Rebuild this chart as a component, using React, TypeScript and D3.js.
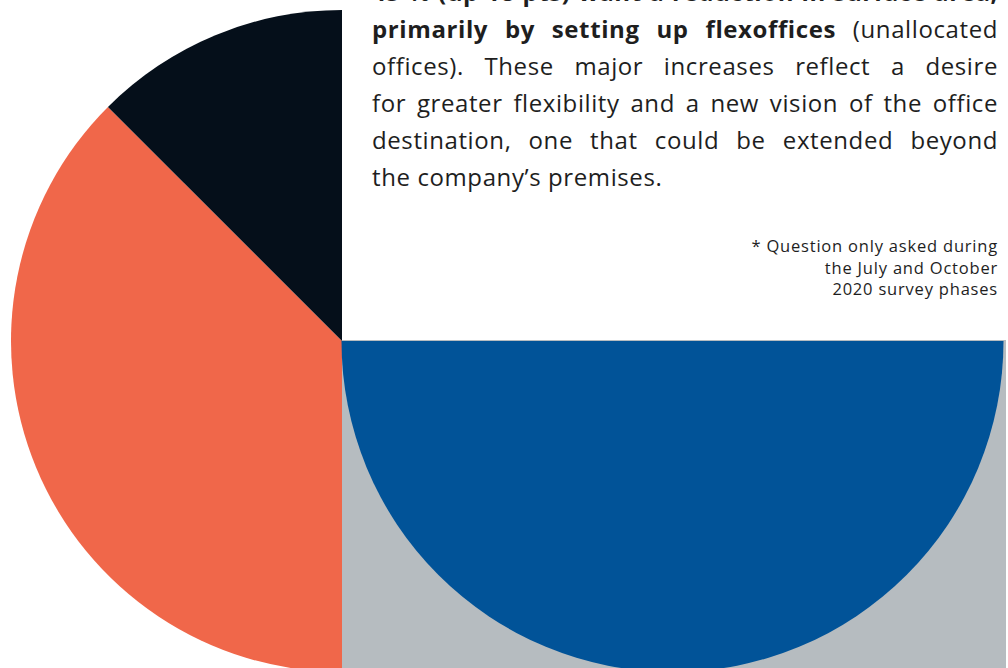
import React, { useEffect, useRef } from "react";
import * as d3 from "d3";

const W = 1008;
const H = 668;

// Pie (left half visible) — share of the half-disc
const pieLabels = ["Reduction", "No change"];
const pieValues = [75, 25];
const pieColors = ["#f0674a", "#050f1a"];

// Blue half-disc over grey panel
const halfValues = [100];
const halfColors = ["#015398"];
const panelColor = "#b6bcc0";

type Seg = { text: string; bold: boolean };
const paraLines: Seg[][] = [
  [{ text: "45 % (up 18 pts) want a reduction in surface area,", bold: true }],
  [
    { text: "primarily by setting up flexoffices", bold: true },
    { text: "(unallocated", bold: false },
  ],
  [{ text: "offices). These major increases reflect a desire", bold: false }],
  [{ text: "for greater flexibility and a new vision of the office", bold: false }],
  [{ text: "destination, one that could be extended beyond", bold: false }],
  [{ text: "the company’s premises.", bold: false }],
];
const justified = [true, true, true, true, true, false];

const footLines = [
  "* Question only asked during",
  "the July and October",
  "2020 survey phases",
];

const FONT = "'Open Sans', 'Noto Sans', sans-serif";

export default function App() {
  const ref = useRef<SVGSVGElement | null>(null);

  useEffect(() => {
    const svg = d3.select(ref.current);
    svg.selectAll("*").remove();

    // Pie
    const cx = 342, cy = 341, r = 331;
    const pie = d3
      .pie<number>()
      .sort(null)
      .startAngle(-Math.PI)
      .endAngle(0);
    const arc = d3.arc<d3.PieArcDatum<number>>().innerRadius(0).outerRadius(r);
    svg
      .append("g")
      .attr("transform", `translate(${cx},${cy})`)
      .selectAll("path")
      .data(pie(pieValues))
      .join("path")
      .attr("d", arc)
      .attr("fill", (_, i) => pieColors[i])
      .attr("data-label", (_, i) => pieLabels[i]);

    // Grey panel
    svg
      .append("rect")
      .attr("x", cx)
      .attr("y", 340)
      .attr("width", 1006 - cx)
      .attr("height", H - 340)
      .attr("fill", panelColor);

    // Blue half disc
    const bx = 672.5, br = 331;
    const half = d3.pie<number>().sort(null).startAngle(Math.PI / 2).endAngle((3 * Math.PI) / 2);
    const arc2 = d3.arc<d3.PieArcDatum<number>>().innerRadius(0).outerRadius(br);
    svg
      .append("g")
      .attr("transform", `translate(${bx},${cy})`)
      .selectAll("path")
      .data(half(halfValues))
      .join("path")
      .attr("d", arc2)
      .attr("fill", (_, i) => halfColors[i]);

    // Paragraph, justified
    const fs = 24;
    const x0 = 372, x1 = 998;
    const tg = svg
      .append("g")
      .attr("font-family", FONT)
      .attr("font-size", fs)
      .attr("letter-spacing", 0.6)
      .attr("fill", "#1e1e1e");
    const measure = (t: string, bold: boolean) => {
      const n = tg.append("text").attr("font-weight", bold ? 700 : 400).text(t);
      const w = (n.node() as SVGTextElement).getComputedTextLength();
      n.remove();
      return w;
    };
    paraLines.forEach((segs, li) => {
      const y = 1 + li * 37;
      const words: { t: string; b: boolean; w: number }[] = [];
      segs.forEach((s) =>
        s.text.split(" ").forEach((t) => words.push({ t, b: s.bold, w: measure(t, s.bold) }))
      );
      const total = d3.sum(words, (d) => d.w);
      const space = measure("a a", false) - 2 * measure("a", false);
      const gap = justified[li] && words.length > 1 ? (x1 - x0 - total) / (words.length - 1) : space;
      let x = x0;
      words.forEach((wd) => {
        tg.append("text")
          .attr("x", x)
          .attr("y", y)
          .attr("font-weight", wd.b ? 700 : 400)
          .text(wd.t);
        x += wd.w + gap;
      });
    });

    // Footnote
    const fg = svg
      .append("g")
      .attr("font-family", FONT)
      .attr("font-size", 16.5)
      .attr("letter-spacing", 0.8)
      .attr("fill", "#1e1e1e")
      .attr("text-anchor", "end");
    footLines.forEach((t, i) => {
      fg.append("text").attr("x", 998).attr("y", 252 + i * 21.5).text(t);
    });
  }, []);

  return (
    <svg
      ref={ref}
      width={W}
      height={H}
      style={{ position: "absolute", left: 0, top: 0, background: "#fff" }}
    />
  );
}
